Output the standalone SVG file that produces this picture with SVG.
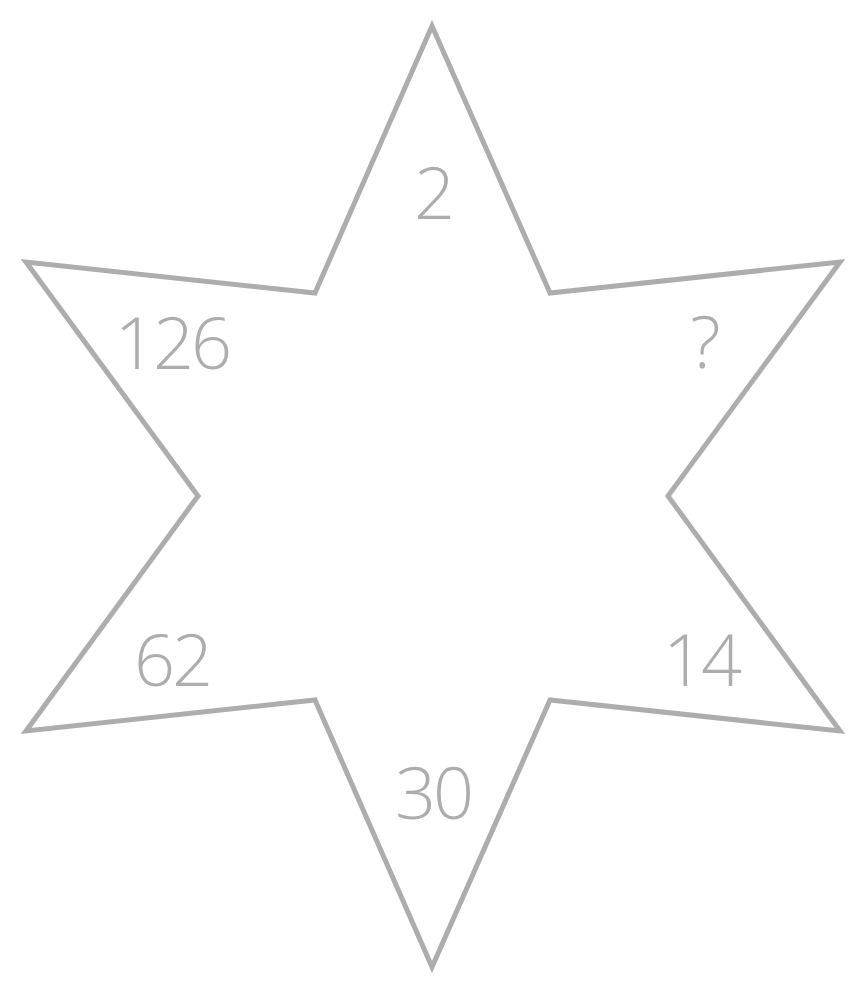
<svg xmlns="http://www.w3.org/2000/svg" width="866" height="994" viewBox="0 0 866 994">
<style>
.star{fill:#fff;stroke:#adadad;stroke-width:5;stroke-linejoin:miter;stroke-miterlimit:10}
.t{font-family:"Open Sans","Lato","Liberation Sans",sans-serif;font-weight:300;font-size:72px;fill:#adadad;text-anchor:middle;letter-spacing:-3px}
</style>
<rect width="866" height="994" fill="#fff"/>
<g id="star">
<polygon class="star" points="432,26 315,293 26,262 198,496 26,731 315,700 432,967 550,700 840,731 668,496 840,262 550,293"/>
</g>
<g id="labels">
<text id="n2" class="t" x="433" y="219">2</text>
<text id="n126" class="t" x="172" y="369">126</text>
<text id="nq" class="t" x="704" y="368">?</text>
<text id="n62" class="t" x="172" y="686">62</text>
<text id="n14" class="t" x="701" y="686">14</text>
<text id="n30" class="t" x="433" y="819">30</text>
</g>
</svg>
